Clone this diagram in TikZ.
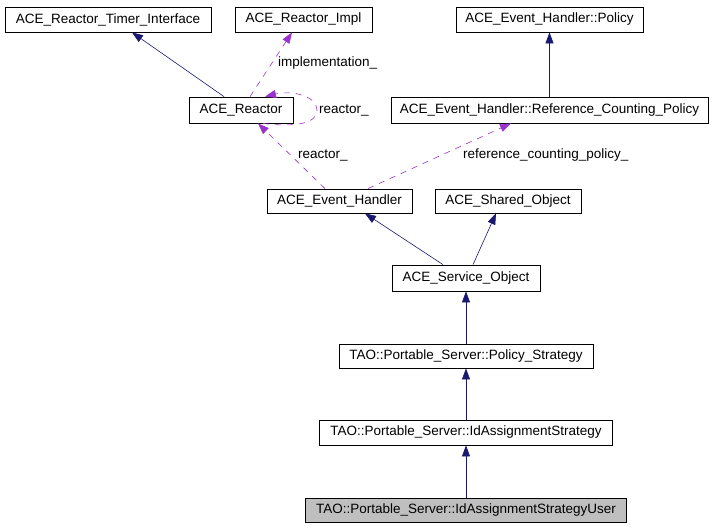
\documentclass[tikz,border=0pt]{standalone}
\usepackage{fontspec}
\setmainfont{Liberation Sans}
\usetikzlibrary{arrows.meta,calc}
\definecolor{edgeblue}{HTML}{191970}
\definecolor{edgepurple}{HTML}{9A32CD}
\definecolor{curfill}{HTML}{BFBFBF}
\begin{document}
\begin{tikzpicture}[x=1pt,y=-1pt,
  every node/.style={font=\fontsize{13.5}{15}\selectfont},
  cls/.style={draw=black,line width=0.8pt,inner sep=0pt,fill=white},
  inh/.style={draw=edgeblue,line width=0.6pt,-{Triangle[length=11pt,width=8pt]},color=edgeblue},
  use/.style={draw=edgepurple,line width=0.6pt,dash pattern=on 6pt off 6pt,-{Triangle[length=11pt,width=8pt]},color=edgepurple},
  lbl/.style={anchor=west,inner sep=0pt,text=black}]
\useasboundingbox[fill=white] (0,0) rectangle (713,528);
\node[cls,minimum width=206pt,minimum height=25pt] (timer) at (108,19.5) {ACE\_Reactor\_Timer\_Interface};
\node[cls,minimum width=137pt,minimum height=25pt] (impl) at (303.5,19.5) {ACE\_Reactor\_Impl};
\node[cls,minimum width=187pt,minimum height=25pt] (policy) at (549.5,19.5) {ACE\_Event\_Handler::Policy};
\node[cls,minimum width=104pt,minimum height=26pt] (reactor) at (241,110) {ACE\_Reactor};
\node[cls,minimum width=317pt,minimum height=26pt] (rcp) at (549.5,110) {ACE\_Event\_Handler::Reference\_Counting\_Policy};
\node[cls,minimum width=145pt,minimum height=24pt] (eh) at (339.5,201) {ACE\_Event\_Handler};
\node[cls,minimum width=146pt,minimum height=24pt] (so) at (508,201) {ACE\_Shared\_Object};
\node[cls,minimum width=148pt,minimum height=26pt] (svc) at (466,278) {ACE\_Service\_Object};
\node[cls,minimum width=254pt,minimum height=24pt] (ps) at (466,356) {TAO::Portable\_Server::Policy\_Strategy};
\node[cls,minimum width=293pt,minimum height=25pt] (ias) at (466,432.5) {TAO::Portable\_Server::IdAssignmentStrategy};
\node[cls,fill=curfill,minimum width=321pt,minimum height=24pt] (user) at (466,510) {TAO::Portable\_Server::IdAssignmentStrategyUser};
% inheritance
\draw[inh] ([xshift=-17pt]reactor.north) -- ([xshift=24pt]timer.south);
\draw[inh] (rcp.north) -- (policy.south);
\draw[inh] ([xshift=-23pt]svc.north) -- ([xshift=25.5pt]eh.south);
\draw[inh] ([xshift=7pt]svc.north) -- ([xshift=-12pt]so.south);
\draw[inh] (ps.north) -- (svc.south);
\draw[inh] (ias.north) -- (ps.south);
\draw[inh] (user.north) -- (ias.south);
% usage
\draw[use] ([xshift=9pt]reactor.north) -- ([xshift=-11.5pt]impl.south);
\node[lbl] (limpl) at (278,63) {implementation\_};
\draw[use] ([xshift=22pt]reactor.south) .. controls (300,128) and (317,122) .. (317,110) .. controls (317,96) and (292,90) .. ([xshift=24pt]reactor.north);
\node[lbl] (lself) at (319,110) {reactor\_};
\draw[use] ([xshift=-14.5pt]eh.north) -- ([xshift=17pt]reactor.south);
\node[lbl] (lreact) at (298,155) {reactor\_};
\draw[use] ([xshift=28.5pt]eh.north) -- ([xshift=-38.5pt]rcp.south);
\node[lbl] (lrcp) at (463,155) {reference\_counting\_policy\_};
\end{tikzpicture}
\end{document}
